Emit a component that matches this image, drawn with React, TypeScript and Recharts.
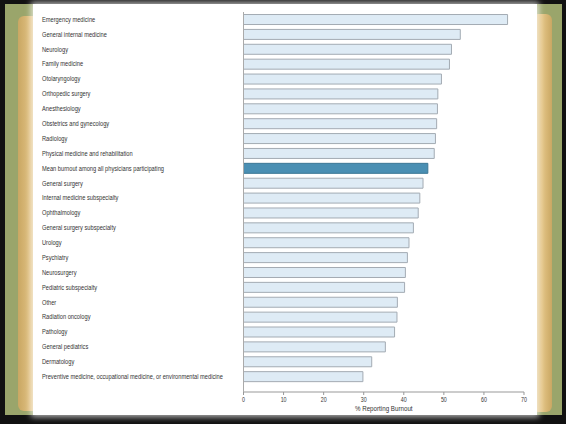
import { BarChart, Bar, XAxis, YAxis, Cell } from "recharts";

const specialties = [
  "Emergency medicine",
  "General internal medicine",
  "Neurology",
  "Family medicine",
  "Otolaryngology",
  "Orthopedic surgery",
  "Anesthesiology",
  "Obstetrics and gynecology",
  "Radiology",
  "Physical medicine and rehabilitation",
  "Mean burnout among all physicians participating",
  "General surgery",
  "Internal medicine subspecialty",
  "Ophthalmology",
  "General surgery subspecialty",
  "Urology",
  "Psychiatry",
  "Neurosurgery",
  "Pediatric subspecialty",
  "Other",
  "Radiation oncology",
  "Pathology",
  "General pediatrics",
  "Dermatology",
  "Preventive medicine, occupational medicine, or environmental medicine",
];

const burnout = [
  65.9, 54.1, 51.9, 51.4, 49.4, 48.5, 48.4, 48.2, 47.9, 47.6, 46.0, 44.8, 44.0,
  43.6, 42.4, 41.3, 40.9, 40.4, 40.2, 38.4, 38.3, 37.7, 35.4, 32.0, 29.8,
];

const xTicks = [0, 10, 20, 30, 40, 50, 60, 70];

const MEAN_LABEL = "Mean burnout among all physicians participating";

const data = specialties.map((name, i) => ({ name, value: burnout[i] }));

const FONT = '"Liberation Sans", Arial, sans-serif';
const SQUEEZE = 0.84;

function SpecialtyTick(props: any) {
  const { y, payload } = props;
  return (
    <text
      transform={`translate(42, ${y}) scale(${SQUEEZE}, 1)`}
      x={0}
      y={0}
      dy={2.4}
      textAnchor="start"
      fontSize={6.8}
      fill="#333"
      fontFamily={FONT}
    >
      {payload.value}
    </text>
  );
}

function ValueTick(props: any) {
  const { x, y, payload } = props;
  return (
    <text
      transform={`translate(${x}, ${y}) scale(0.78, 1)`}
      x={0}
      y={0}
      dy={6}
      textAnchor="middle"
      fontSize={6.8}
      fill="#333"
      fontFamily={FONT}
    >
      {payload.value}
    </text>
  );
}

function AxisTitle(props: any) {
  const { viewBox } = props;
  const cx = viewBox.x + viewBox.width / 2;
  return (
    <text
      transform={`translate(${cx}, 411) scale(${SQUEEZE}, 1)`}
      textAnchor="middle"
      fontSize={7.4}
      fill="#333"
      fontFamily={FONT}
    >
      % Reporting Burnout
    </text>
  );
}

export default function App() {
  return (
    <div
      style={{
        position: "fixed",
        left: 0,
        top: 0,
        width: 566,
        height: 424,
        background: "#111",
        overflow: "hidden",
      }}
    >
      {/* green backdrop */}
      <div style={{ position: "absolute", left: 5, top: 4, width: 557, height: 411, background: "#9aa56b" }} />
      {/* tan side strips */}
      <div
        style={{
          position: "absolute",
          left: 18,
          top: 16,
          width: 22,
          height: 395,
          background: "linear-gradient(90deg, #c9a763, #e2c283 60%, #d8b874)",
          borderRadius: 6,
        }}
      />
      <div
        style={{
          position: "absolute",
          left: 532,
          top: 14,
          width: 20,
          height: 398,
          background: "linear-gradient(90deg, #d8b874, #e4c586 50%, #c9a763)",
          borderRadius: 6,
        }}
      />
      {/* white sheet */}
      <div
        style={{
          position: "absolute",
          left: 33,
          top: 4,
          width: 504,
          height: 411,
          background: "#fff",
          boxShadow: "0 0 6px 2px rgba(255,255,255,0.7)",
        }}
      />
      <div style={{ position: "absolute", left: 0, top: 0 }}>
        <BarChart
          width={566}
          height={424}
          data={data}
          layout="vertical"
          margin={{ top: 12, right: 42, bottom: 0, left: 0 }}
          barCategoryGap="17%"
        >
          <XAxis
            type="number"
            domain={[0, 70]}
            ticks={xTicks}
            height={32}
            stroke="#999"
            tickSize={3}
            tickMargin={1}
            tick={<ValueTick />}
            label={<AxisTitle />}
          />
          <YAxis
            type="category"
            dataKey="name"
            width={243.5}
            stroke="#aaa"
            tickLine={false}
            tick={<SpecialtyTick />}
            interval={0}
            padding={{ top: 0, bottom: 8 }}
          />
          <Bar dataKey="value" isAnimationActive={false} strokeWidth={1}>
            {data.map((d, i) => (
              <Cell
                key={i}
                fill={d.name === MEAN_LABEL ? "#4a8fb3" : "#deebf5"}
                stroke={d.name === MEAN_LABEL ? "#3d7896" : "#a3abb3"}
              />
            ))}
          </Bar>
        </BarChart>
      </div>
    </div>
  );
}
